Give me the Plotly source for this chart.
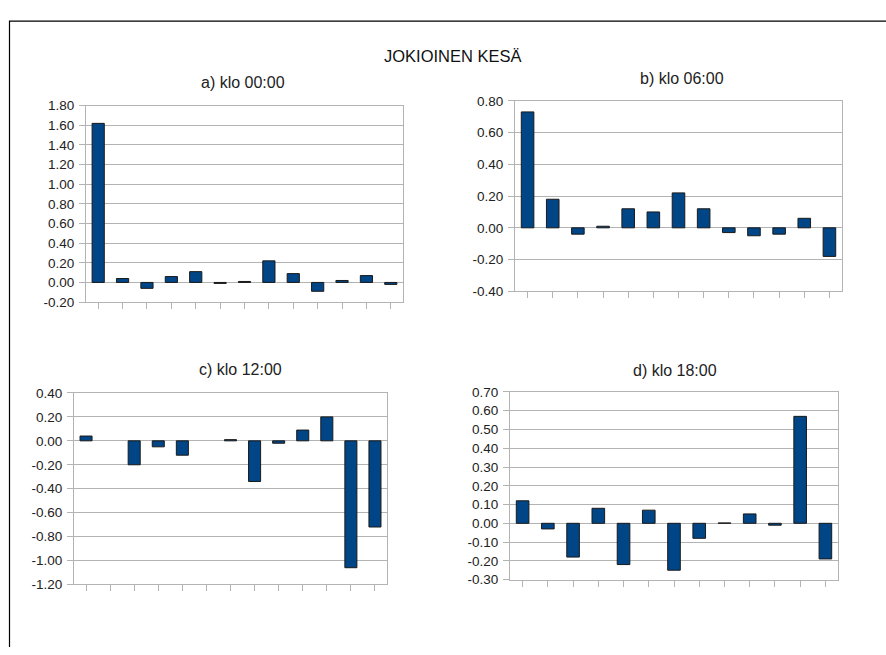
import plotly.graph_objects as go

# Jokioinen summer: deviations per category at four times of day
categories = list(range(1, 14))

vals_00 = [1.62, 0.04, -0.06, 0.06, 0.11, -0.01, 0.01, 0.22, 0.09, -0.09, 0.02, 0.07, -0.02]
vals_06 = [0.73, 0.18, -0.04, 0.01, 0.12, 0.10, 0.22, 0.12, -0.03, -0.05, -0.04, 0.06, -0.18]
vals_12 = [0.04, None, -0.20, -0.05, -0.12, None, 0.01, -0.34, -0.02, 0.09, 0.20, -1.06, -0.72]
vals_18 = [0.12, -0.03, -0.18, 0.08, -0.22, 0.07, -0.25, -0.08, 0.002, 0.05, -0.01, 0.57, -0.19]

ticks_00 = [-0.20, 0.00, 0.20, 0.40, 0.60, 0.80, 1.00, 1.20, 1.40, 1.60, 1.80]
ticks_06 = [-0.40, -0.20, 0.00, 0.20, 0.40, 0.60, 0.80]
ticks_12 = [-1.20, -1.00, -0.80, -0.60, -0.40, -0.20, 0.00, 0.20, 0.40]
ticks_18 = [-0.30, -0.20, -0.10, 0.00, 0.10, 0.20, 0.30, 0.40, 0.50, 0.60, 0.70]

main_title = "JOKIOINEN KESÄ"
panel_titles = ["a) klo 00:00", "b) klo 06:00", "c) klo 12:00", "d) klo 18:00"]

W, H = 886, 655
FONT = "Liberation Sans, Arial, sans-serif"
GRID = "#b3b3b3"
BAR = "#004586"

# Panel plot areas in pixels: (left, right, top, bottom)
boxes = [
    (86, 403, 101, 302),
    (515, 842, 96, 291),
    (74, 387, 395, 591),
    (510, 838, 394, 586),
]
# Panel title centres in pixels
title_pos = [(243, 77), (682, 73), (240, 371), (675, 372)]

series = [vals_00, vals_06, vals_12, vals_18]
ticks = [ticks_00, ticks_06, ticks_12, ticks_18]

fig = go.Figure()
layout = {}
for i, (vals, tv, box) in enumerate(zip(series, ticks, boxes)):
    n = "" if i == 0 else str(i + 1)
    fig.add_trace(go.Bar(
        x=list(range(len(categories))), y=vals,
        xaxis="x" + n, yaxis="y" + n,
        width=0.5,
        marker=dict(color=BAR, line=dict(color="#1a1a1a", width=1)),
        showlegend=False, hoverinfo="y",
    ))
    l, r, t, b = box
    layout["xaxis" + n] = dict(
        domain=[l / W, r / W], anchor="y" + n,
        range=[-0.5, len(categories) - 0.5],
        tickvals=list(range(len(categories))),
        ticktext=[""] * len(categories),
        ticks="outside", ticklen=6, tickcolor=GRID, tickwidth=1,
        showgrid=False, zeroline=False,
        showline=True, linecolor=GRID, linewidth=1, mirror=True,
        fixedrange=True,
    )
    layout["yaxis" + n] = dict(
        domain=[1 - b / H, 1 - t / H], anchor="x" + n,
        range=[tv[0], tv[-1]],
        tickvals=tv, ticktext=[f"{v:.2f}" for v in tv],
        ticks="outside", ticklen=6, tickcolor=GRID, tickwidth=1,
        ticklabelstandoff=2,
        showgrid=True, gridcolor=GRID, gridwidth=1,
        zeroline=False,
        showline=True, linecolor=GRID, linewidth=1, mirror=True,
        tickfont=dict(family=FONT, size=13.5, color="#222222"),
        fixedrange=True,
    )

annotations = [dict(
    text=main_title, x=453 / W, y=1 - 50 / H, xref="paper", yref="paper",
    xanchor="center", yanchor="middle", showarrow=False,
    font=dict(family=FONT, size=16.5, color="#111111"),
)]
for txt, (cx, cy) in zip(panel_titles, title_pos):
    annotations.append(dict(
        text=txt, x=cx / W, y=1 - cy / H, xref="paper", yref="paper",
        xanchor="center", yanchor="middle", showarrow=False,
        font=dict(family=FONT, size=16, color="#222222"),
    ))

# Outer frame line (top and left edges)
shapes = [dict(
    type="path", xref="paper", yref="paper",
    path=f"M {9.5 / W} 0 L {9.5 / W} {1 - 14.5 / H} L 1 {1 - 14.5 / H}",
    line=dict(color="black", width=1.2),
)]

fig.update_layout(
    width=W, height=H,
    margin=dict(l=0, r=0, t=0, b=0),
    paper_bgcolor="white", plot_bgcolor="white",
    bargap=0.5,
    annotations=annotations, shapes=shapes,
    font=dict(family=FONT),
    **layout,
)

fig.write_html("out.html")
